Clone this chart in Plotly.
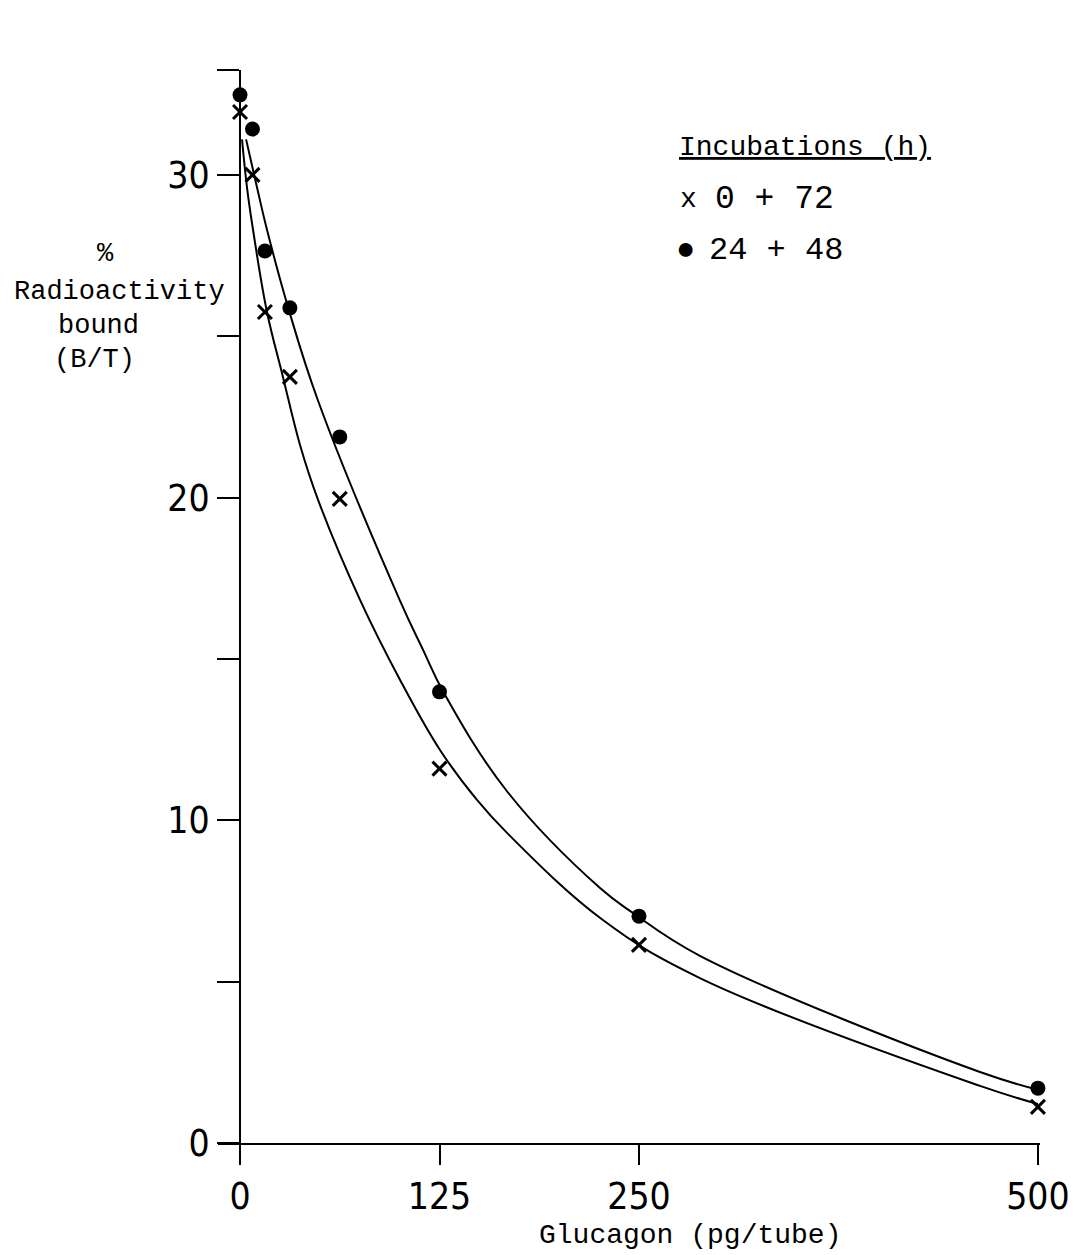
import plotly.graph_objects as go

# Glucagon dose (pg/tube)
dose = [0, 7.8, 15.6, 31.25, 62.5, 125, 250, 500]

# % radioactivity bound (B/T)
bound_0_72 = [31.95, 30.0, 25.75, 23.74, 19.96, 11.6, 6.14, 1.12]
bound_24_48 = [32.48, 31.42, 27.64, 25.88, 21.88, 13.98, 7.03, 1.70]

# Fitted curves
curve_24_48_x = [3.8, 10.7, 16.9, 30.1, 48.9, 100.3, 114.7, 127.2, 167.3, 225.6, 246.2, 288.2, 463.7, 500]
curve_24_48_y = [31.1, 29.6, 28.3, 25.9, 23.0, 16.8, 15.28, 14.0, 10.9, 7.9, 7.13, 5.8, 2.2, 1.65]
curve_0_72_x = [1.25, 4.4, 8.15, 16.9, 26.9, 37.6, 48.9, 75.2, 100.3, 125.3, 148.5, 167.3, 227.4, 288.2, 463.7, 500]
curve_0_72_y = [31.1, 29.6, 28.3, 25.75, 23.74, 21.63, 19.93, 16.83, 14.35, 12.18, 10.63, 9.61, 6.91, 5.11, 1.77, 1.21]

x_ticks = [0, 125, 250, 500]
y_ticks = [0, 5, 10, 15, 20, 25, 30, 33.25]
y_ticktext = ["0", "", "10", "", "20", "", "30", ""]

MONO = "Liberation Mono, Courier New, DejaVu Sans Mono, monospace"
NARROW = "Liberation Sans Narrow, DejaVu Sans Condensed, Arial Narrow, sans-serif"

fig = go.Figure()
fig.add_trace(go.Scatter(x=curve_24_48_x, y=curve_24_48_y, mode="lines",
                         line=dict(color="black", width=2, shape="spline", smoothing=1.1),
                         showlegend=False, hoverinfo="skip"))
fig.add_trace(go.Scatter(x=curve_0_72_x, y=curve_0_72_y, mode="lines",
                         line=dict(color="black", width=2, shape="spline", smoothing=1.1),
                         showlegend=False, hoverinfo="skip"))
fig.add_trace(go.Scatter(x=dose, y=bound_0_72, mode="markers", name="0 + 72",
                         marker=dict(symbol="x-thin", size=14, color="black",
                                     line=dict(color="black", width=3)),
                         cliponaxis=False, showlegend=False))
fig.add_trace(go.Scatter(x=dose, y=bound_24_48, mode="markers", name="24 + 48",
                         marker=dict(symbol="circle", size=15, color="black"),
                         cliponaxis=False, showlegend=False))

L, R, T, B = 218, 34, 70, 112
W, H = 1074, 1255
pw, ph = W - L - R, H - T - B

def px(xp):
    return (xp - L) / pw

def py(yp):
    return (H - B - yp) / ph

annotations = []
def ann(text, xp, yp, xanchor="center", size=28):
    annotations.append(dict(text=text, x=px(xp), y=py(yp), xref="paper", yref="paper",
                            xanchor=xanchor, yanchor="middle", showarrow=False,
                            font=dict(family=MONO, size=size, color="black")))

# y-axis title
ann("%", 105, 254, size=27)
ann("Radioactivity", 119, 292, size=27)
ann("bound", 98, 326, size=27)
ann("(B/T)", 95, 360, size=27)
# x-axis title
ann("Glucagon (pg/tube)", 690, 1235)
# legend
ann("<u>Incubations (h)</u>", 677, 148, xanchor="left")
ann("x", 678, 199, xanchor="left")
ann("0 + 72", 713, 199, xanchor="left", size=33)
ann("●", 674, 250, xanchor="left", size=32)
ann("24 + 48", 707, 250, xanchor="left", size=32)

fig.update_layout(
    width=W, height=H,
    margin=dict(l=L, r=R, t=T, b=B, autoexpand=False),
    paper_bgcolor="white", plot_bgcolor="white",
    annotations=annotations,
    xaxis=dict(range=[-13.8, 501.3], tickvals=x_ticks, ticktext=[str(v) for v in x_ticks],
               automargin=False,
               showline=True, linecolor="black", linewidth=2,
               ticks="outside", ticklen=20, tickwidth=2, tickcolor="black",
               showgrid=False, zeroline=False,
               tickfont=dict(family=NARROW, size=37, color="black")),
    yaxis=dict(range=[0, 33.25], tickvals=y_ticks, ticktext=y_ticktext,
               anchor="free", position=(240 - L) / pw, automargin=False,
               showline=True, linecolor="black", linewidth=2,
               ticks="outside", ticklen=22, tickwidth=2, tickcolor="black",
               showgrid=False, zeroline=False,
               tickfont=dict(family=NARROW, size=37, color="black")),
)

fig.write_html("out.html")
